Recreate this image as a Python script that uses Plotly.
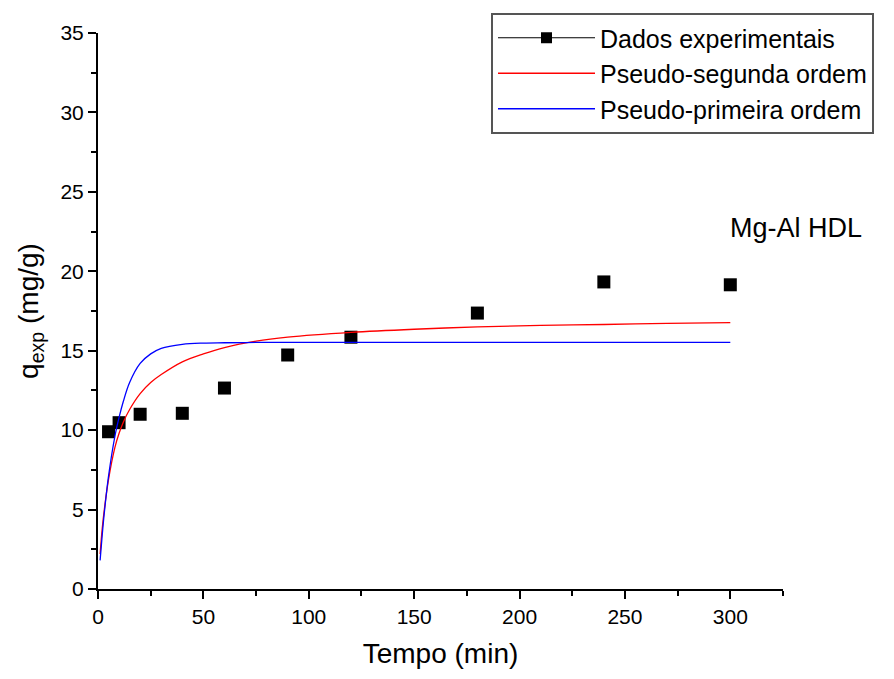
import plotly.graph_objects as go

# Experimental data
t_exp = [5, 10, 20, 40, 60, 90, 120, 180, 240, 300]
q_exp = [9.9, 10.47, 11.0, 11.06, 12.65, 14.73, 15.85, 17.37, 19.33, 19.15]

# Fitted curves
t_fit = [1, 2, 3, 5, 8, 10, 12, 15, 20, 25, 30, 40, 50, 60, 75, 90, 120, 150, 180, 210, 240, 270, 300]
q_pso = [2.2, 3.8, 5.0, 6.9, 8.9, 9.8, 10.5, 11.3, 12.3, 13.0, 13.5, 14.3, 14.8, 15.2, 15.6, 15.85,
         16.15, 16.35, 16.5, 16.6, 16.65, 16.72, 16.77]
q_pfo = [1.8, 3.4, 4.8, 7.1, 9.6, 10.8, 11.8, 13.0, 14.2, 14.8, 15.15, 15.4, 15.48, 15.5, 15.52, 15.52,
         15.52, 15.52, 15.52, 15.52, 15.52, 15.52, 15.52]

FONT = "Liberation Sans, Arial, sans-serif"

fig = go.Figure()
# data markers (no connecting line in the plot)
fig.add_trace(go.Scatter(x=t_exp, y=q_exp, mode="markers", name="Dados experimentais",
                         marker=dict(symbol="square", size=13, color="black"),
                         showlegend=False, legendgroup="dados"))
# legend entry showing line + marker
fig.add_trace(go.Scatter(x=[None], y=[None], mode="lines+markers", name="Dados experimentais",
                         marker=dict(symbol="square", size=11, color="black"),
                         line=dict(color="black", width=1), legendgroup="dados"))
fig.add_trace(go.Scatter(x=t_fit, y=q_pso, mode="lines", name="Pseudo-segunda ordem",
                         line=dict(color="#ff0000", width=1.3, shape="spline")))
fig.add_trace(go.Scatter(x=t_fit, y=q_pfo, mode="lines", name="Pseudo-primeira ordem",
                         line=dict(color="#0000ff", width=1.3, shape="spline")))

# plot area: x 98..783, y 33..589
W_PAPER = 894 - 98 - 12
fig.add_annotation(x=(796 - 98) / W_PAPER, y=(589 - 228) / 556, xref="paper", yref="paper",
                   text="Mg-Al HDL", showarrow=False, xanchor="center", yanchor="middle",
                   font=dict(family=FONT, size=27, color="black"))

axis_common = dict(showline=True, linecolor="black", linewidth=2, ticks="outside", tickwidth=2,
                   ticklen=8, tickcolor="black", showgrid=False, zeroline=False,
                   tickfont=dict(family=FONT, size=21, color="black"))

fig.update_layout(
    width=894, height=679,
    margin=dict(l=98, r=12, t=33, b=90),
    plot_bgcolor="white", paper_bgcolor="white",
    xaxis=dict(range=[0, 325], dtick=50, tick0=0, domain=[0, 685 / W_PAPER],
               minor=dict(ticks="outside", dtick=25, ticklen=5, tickwidth=2, tickcolor="black"),
               title=dict(text="Tempo (min)", font=dict(family=FONT, size=28, color="black"), standoff=16),
               **axis_common),
    yaxis=dict(range=[0, 35], dtick=5, tick0=0,
               minor=dict(ticks="outside", dtick=2.5, ticklen=5, tickwidth=2, tickcolor="black"),
               title=dict(text="q<sub>exp</sub> (mg/g)", font=dict(family=FONT, size=28, color="black"), standoff=14),
               **axis_common),
    legend=dict(x=(491 - 98) / W_PAPER, y=(589 - 13) / 556, xanchor="left", yanchor="top",
                bordercolor="#555555", borderwidth=2, bgcolor="white", itemwidth=97,
                font=dict(family=FONT, size=25, color="black"), tracegroupgap=0),
    showlegend=True,
)

fig.write_html("out.html")
